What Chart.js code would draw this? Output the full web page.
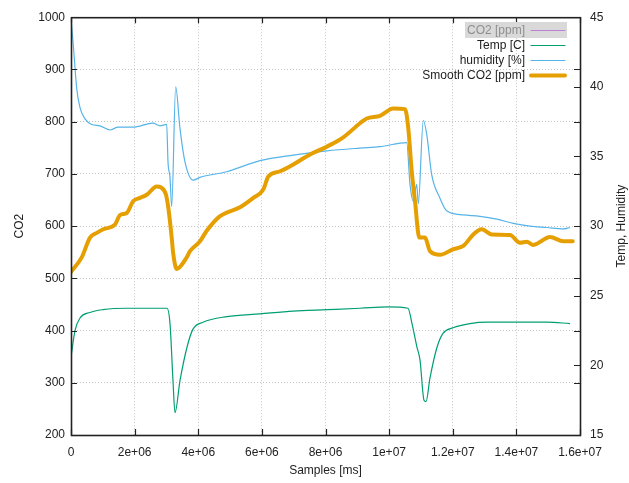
<!DOCTYPE html>
<html>
<head>
<meta charset="utf-8">
<script src="https://cdn.jsdelivr.net/npm/chart.js@4/dist/chart.umd.min.js"></script>
<style>
  html, body { margin: 0; padding: 0; background: #fff; }
  canvas { display: block; }
</style>
</head>
<body>
<canvas id="chart" width="629" height="483"></canvas>
<script>
// 各系列のデータ(グラフから目で読み取った値)
// 時刻は Samples [ms]

// CO2 [ppm] 生データ(凡例で非表示になっているので点は無し)
const co2Time = [];
const co2Raw = [];

// Temp [C]
const tempTime = [0, 126000, 283000, 597000, 1006000, 1760000, 3018000, 3112000, 3206000, 3269000,
  3426000, 3646000, 3835000, 4149000, 4904000, 5941000, 6978000, 8047000, 9084000, 9965000,
  10593000, 10719000, 10876000, 10970000, 11096000, 11159000, 11285000, 11505000, 11693000, 12008000,
  12542000, 13077000, 13894000, 14963000, 15686000];
const temp = [20.6, 22.5, 23.4, 23.8, 24.0, 24.1, 24.1, 23.0, 18.9, 16.6,
  18.9, 21.3, 22.6, 23.1, 23.5, 23.7, 23.9, 24.0, 24.1, 24.2,
  24.1, 23.0, 21.3, 20.4, 17.5, 17.4, 19.1, 21.3, 22.3, 22.7,
  23.0, 23.1, 23.1, 23.1, 23.0];

// humidity [%]
const humTime = [0, 72000, 179000, 283000, 440000, 651000, 912000, 1226000, 1477000, 1949000,
  2578000, 2798000, 3008000, 3049000, 3112000, 3165000, 3291000, 3426000, 3584000, 3844000,
  4055000, 4894000, 5941000, 6988000, 8038000, 9084000, 9713000, 10553000, 10656000, 10760000,
  10867000, 10917000, 11074000, 11181000, 11338000, 11599000, 11810000, 12332000, 12857000, 13381000,
  13903000, 14428000, 14953000, 15475000, 15686000];
const humidity = [44.9, 43.0, 39.9, 38.5, 37.7, 37.3, 37.2, 36.9, 37.1, 37.1,
  37.4, 37.2, 37.3, 34.6, 33.5, 31.4, 40.0, 37.0, 34.6, 33.3,
  33.5, 33.9, 34.7, 35.1, 35.4, 35.6, 35.7, 36.0, 33.0, 31.8,
  33.0, 31.6, 37.6, 36.6, 33.7, 32.0, 31.1, 30.8, 30.7, 30.5,
  30.2, 30.0, 29.9, 29.8, 29.9];

// Smooth CO2 [ppm]
const smoothTime = [0, 336000, 597000, 808000, 1015000, 1383000, 1540000, 1751000, 1958000, 2169000,
  2380000, 2694000, 2829000, 2986000, 3059000, 3165000, 3216000, 3323000, 3637000, 3741000,
  4055000, 4266000, 4685000, 5312000, 5730000, 6045000, 6202000, 6570000, 6988000, 7513000,
  8038000, 8560000, 9084000, 9295000, 9713000, 10131000, 10499000, 10603000, 10710000, 10813000,
  10949000, 11128000, 11285000, 11599000, 12018000, 12332000, 12646000, 12910000, 13225000, 13800000,
  14114000, 14325000, 14532000, 15057000, 15475000, 15771000];
const smoothCO2 = [512, 540, 578, 587, 594, 603, 621, 625, 648, 654,
  660, 676, 674, 660, 635, 578, 546, 518, 540, 552,
  571, 591, 619, 636, 654, 670, 695, 705, 718, 737,
  752, 770, 797, 806, 811, 825, 824, 787, 705, 648,
  578, 578, 552, 545, 556, 562, 584, 594, 584, 583,
  568, 570, 564, 579, 571, 571];

// 目盛りラベル
const xTickLabels = ['0', '2e+06', '4e+06', '6e+06', '8e+06', '1e+07', '1.2e+07', '1.4e+07', '1.6e+07'];

const FONT = '"Liberation Sans", Arial, sans-serif';
const TEXT = '#222';

function toPoints(xs, ys) {
  return xs.map((x, i) => ({ x: x, y: ys[i] }));
}

// 枠線・内向きの目盛り・軸タイトル・凡例を描くプラグイン
const gnuplotFrame = {
  id: 'gnuplotFrame',
  afterDatasetsDraw(chart) {
    const ctx = chart.ctx;
    const a = chart.chartArea;
    const sx = chart.scales.x, sy = chart.scales.y, sy2 = chart.scales.y2;
    ctx.save();
    ctx.strokeStyle = '#222';
    ctx.lineWidth = 1.2;
    ctx.beginPath();
    sx.ticks.forEach(t => {
      const px = Math.round(sx.getPixelForValue(t.value)) + 0.5;
      ctx.moveTo(px, a.bottom); ctx.lineTo(px, a.bottom - 6);
      ctx.moveTo(px, a.top); ctx.lineTo(px, a.top + 6);
    });
    sy.ticks.forEach(t => {
      const py = Math.round(sy.getPixelForValue(t.value)) + 0.5;
      ctx.moveTo(a.left, py); ctx.lineTo(a.left + 6, py);
      ctx.moveTo(a.right, py); ctx.lineTo(a.right - 6, py);
    });
    sy2.ticks.forEach(t => {
      const py = Math.round(sy2.getPixelForValue(t.value)) + 0.5;
      ctx.moveTo(a.right, py); ctx.lineTo(a.right - 6, py);
    });
    ctx.stroke();
    ctx.lineWidth = 1.6;
    ctx.strokeRect(a.left + 0.5, a.top + 0.5, a.right - a.left, a.bottom - a.top);

    // 軸タイトル
    ctx.fillStyle = TEXT;
    ctx.font = '12px ' + FONT;
    ctx.textAlign = 'center';
    ctx.textBaseline = 'middle';
    const midY = (a.top + a.bottom) / 2;
    ctx.save();
    ctx.translate(20, midY);
    ctx.rotate(-Math.PI / 2);
    ctx.fillText('CO2', 0, 0);
    ctx.restore();
    ctx.save();
    ctx.translate(622, midY);
    ctx.rotate(-Math.PI / 2);
    ctx.fillText('Temp, Humidity', 0, 0);
    ctx.restore();
    ctx.fillText('Samples [ms]', (a.left + a.right) / 2, 471);

    // 凡例(右上、プロット内)
    ctx.textAlign = 'right';
    chart.data.datasets.forEach((ds, i) => {
      const y = 30 + i * 15;
      if (ds.hidden) {
        ctx.fillStyle = '#d9d9d9';
        ctx.fillRect(465, y - 8, 102, 16);
        ctx.fillStyle = '#8f8f8f';
      } else {
        ctx.fillStyle = TEXT;
      }
      ctx.fillText(ds.label, 525, y + 1);
      ctx.save();
      ctx.globalAlpha = ds.hidden ? 0.4 : 1;
      ctx.strokeStyle = ds.borderColor;
      ctx.lineWidth = ds.borderWidth;
      ctx.lineCap = 'round';
      ctx.beginPath();
      ctx.moveTo(531, y + 0.5);
      ctx.lineTo(565, y + 0.5);
      ctx.stroke();
      ctx.restore();
    });
    ctx.restore();
  }
};

const gridDots = { display: false, dash: [1, 2] };

new Chart(document.getElementById('chart'), {
  type: 'line',
  data: {
    datasets: [
      {
        label: 'CO2 [ppm]',
        data: toPoints(co2Time, co2Raw),
        borderColor: '#9400D3',
        borderWidth: 1,
        hidden: true,
        yAxisID: 'y',
        order: 3
      },
      {
        label: 'Temp [C]',
        data: toPoints(tempTime, temp),
        borderColor: '#009E73',
        borderWidth: 1.2,
        cubicInterpolationMode: 'monotone',
        yAxisID: 'y2',
        order: 2
      },
      {
        label: 'humidity [%]',
        data: toPoints(humTime, humidity),
        borderColor: '#56B4E9',
        borderWidth: 1.2,
        cubicInterpolationMode: 'monotone',
        yAxisID: 'y2',
        order: 1
      },
      {
        label: 'Smooth CO2 [ppm]',
        data: toPoints(smoothTime, smoothCO2),
        borderColor: '#E69F00',
        borderWidth: 4,
        borderJoinStyle: 'round',
        borderCapStyle: 'round',
        cubicInterpolationMode: 'monotone',
        yAxisID: 'y',
        order: 0
      }
    ]
  },
  options: {
    responsive: false,
    animation: false,
    devicePixelRatio: 1,
    layout: { padding: { top: 15, left: 0, right: 0, bottom: 0 } },
    elements: { point: { radius: 0 }, line: { tension: 0.4, fill: false } },
    plugins: { legend: { display: false }, tooltip: { enabled: false } },
    scales: {
      x: {
        type: 'linear',
        min: 0,
        max: 1.6e7,
        afterFit(scale) { scale.height = 48; },
        grid: { color: '#c4c4c4', lineWidth: 1, drawTicks: false },
        border: gridDots,
        ticks: {
          stepSize: 2e6,
          autoSkip: false,
          maxRotation: 0,
          padding: 10,
          color: TEXT,
          font: { family: FONT, size: 12 },
          callback: (v) => xTickLabels[Math.round(v / 2e6)]
        }
      },
      y: {
        position: 'left',
        min: 200,
        max: 1000,
        afterFit(scale) { scale.width = 71; },
        grid: { color: '#c4c4c4', lineWidth: 1, drawTicks: false },
        border: gridDots,
        ticks: {
          stepSize: 100,
          padding: 6,
          color: TEXT,
          font: { family: FONT, size: 12 },
          callback: (v) => String(v)
        }
      },
      y2: {
        position: 'right',
        min: 15,
        max: 45,
        afterFit(scale) { scale.width = 49; },
        grid: { drawOnChartArea: false, drawTicks: false },
        border: { display: false },
        ticks: {
          stepSize: 5,
          padding: 10,
          color: TEXT,
          font: { family: FONT, size: 12 },
          callback: (v) => String(v)
        }
      }
    }
  },
  plugins: [gnuplotFrame]
});
</script>
</body>
</html>
